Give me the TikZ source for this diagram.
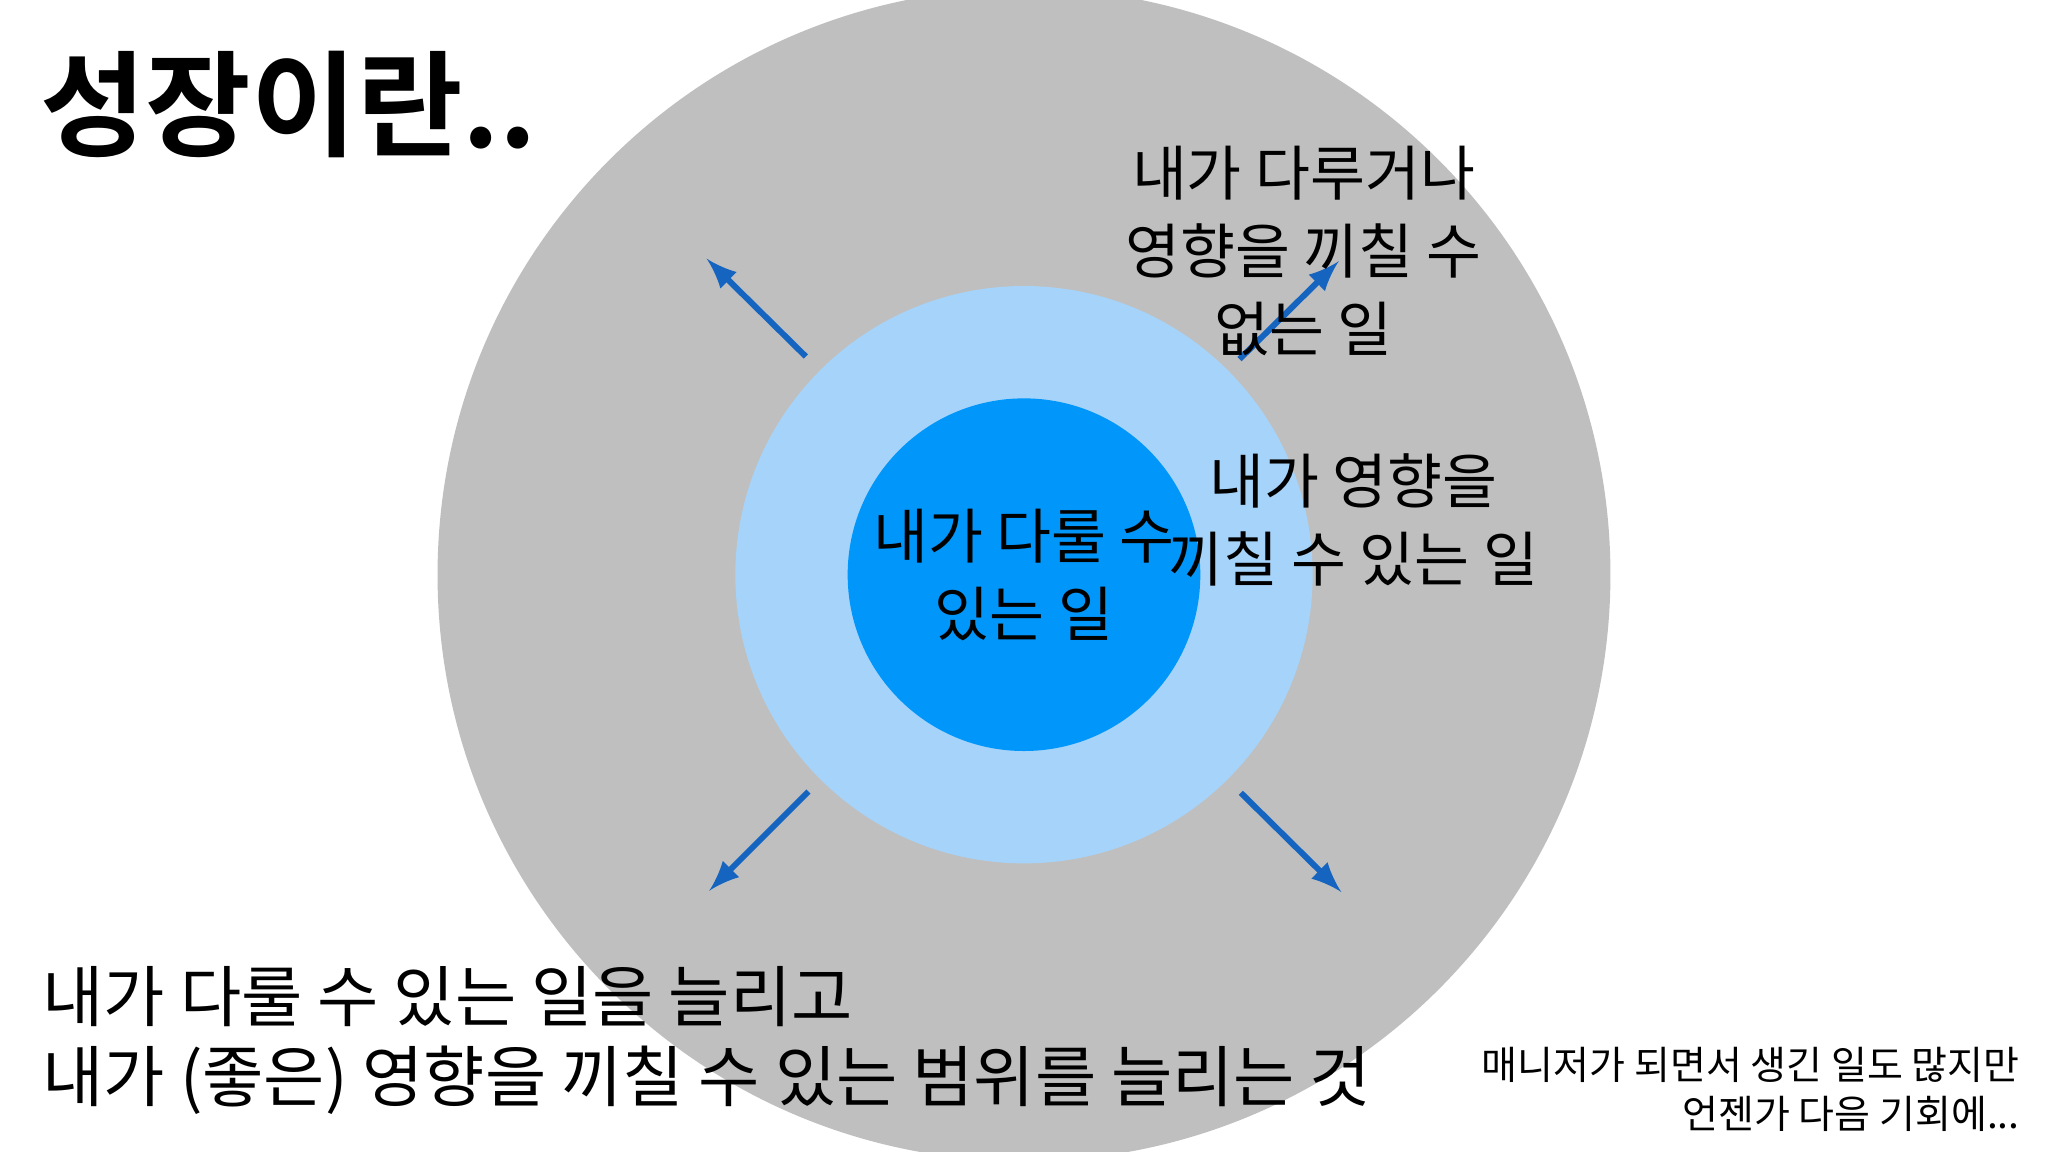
\documentclass[tikz,border=0pt]{standalone}
\usepackage{fontspec}
\setmainfont{Noto Sans CJK KR}
\newfontfamily\krb{Noto Sans CJK KR Bold}
\begin{document}
\begin{tikzpicture}[x=0.01cm,y=-0.01cm,
  arr/.style={draw={rgb,255:red,21;green,101;blue,192},line width=1.3pt,-latex},
  lbl/.style={align=center,font=\fontsize{13}{17}\selectfont,inner sep=0pt}]
\definecolor{gr}{HTML}{BFBFBF}
\definecolor{lb}{HTML}{A6D3F9}
\definecolor{db}{HTML}{0096FA}
\useasboundingbox (0,0) rectangle (1568,882);
\fill[white] (0,0) rectangle (1568,882);
\begin{scope}
\clip (0,0) rectangle (1568,882);
\fill[gr] (784,440) circle (449);
\end{scope}
\fill[lb] (784,440) circle (221);
\fill[db] (784,440) circle (135);
\coordinate (a1) at (617,273); \coordinate (b1) at (541,198);
\coordinate (a2) at (949,275); \coordinate (b2) at (1025,200);
\coordinate (a3) at (619,606); \coordinate (b3) at (543,682);
\coordinate (a4) at (950,607); \coordinate (b4) at (1027,683);
\draw[arr] (a1)--(b1); \draw[arr] (a2)--(b2); \draw[arr] (a3)--(b3); \draw[arr] (a4)--(b4);
\node[lbl] (outer) at (998,192) {내가 다루거나\\영향을 끼칠 수\\없는 일};
\node[lbl] (mid) at (1036,398) {내가 영향을\\끼칠 수 있는 일};
\node[lbl] (in) at (784,440) {내가 다룰 수\\있는 일};
\node[anchor=west,inner sep=0pt,font=\krb\fontsize{25}{30}\selectfont] (title) at (30,80) {성장이란..};
\node[anchor=west,inner sep=0pt,font=\fontsize{14.5}{18}\selectfont] (l1) at (32,763) {내가 다룰 수 있는 일을 늘리고};
\node[anchor=west,inner sep=0pt,font=\fontsize{14.5}{18}\selectfont] (l2) at (32,827) {내가 (좋은) 영향을 끼칠 수 있는 범위를 늘리는 것};
\node[anchor=east,inner sep=0pt,font=\fontsize{8.5}{11}\selectfont] (r1) at (1547,815) {매니저가 되면서 생긴 일도 많지만};
\node[anchor=east,inner sep=0pt,font=\fontsize{8.5}{11}\selectfont] (r2) at (1547,853) {언젠가 다음 기회에...};
\end{tikzpicture}
\end{document}
